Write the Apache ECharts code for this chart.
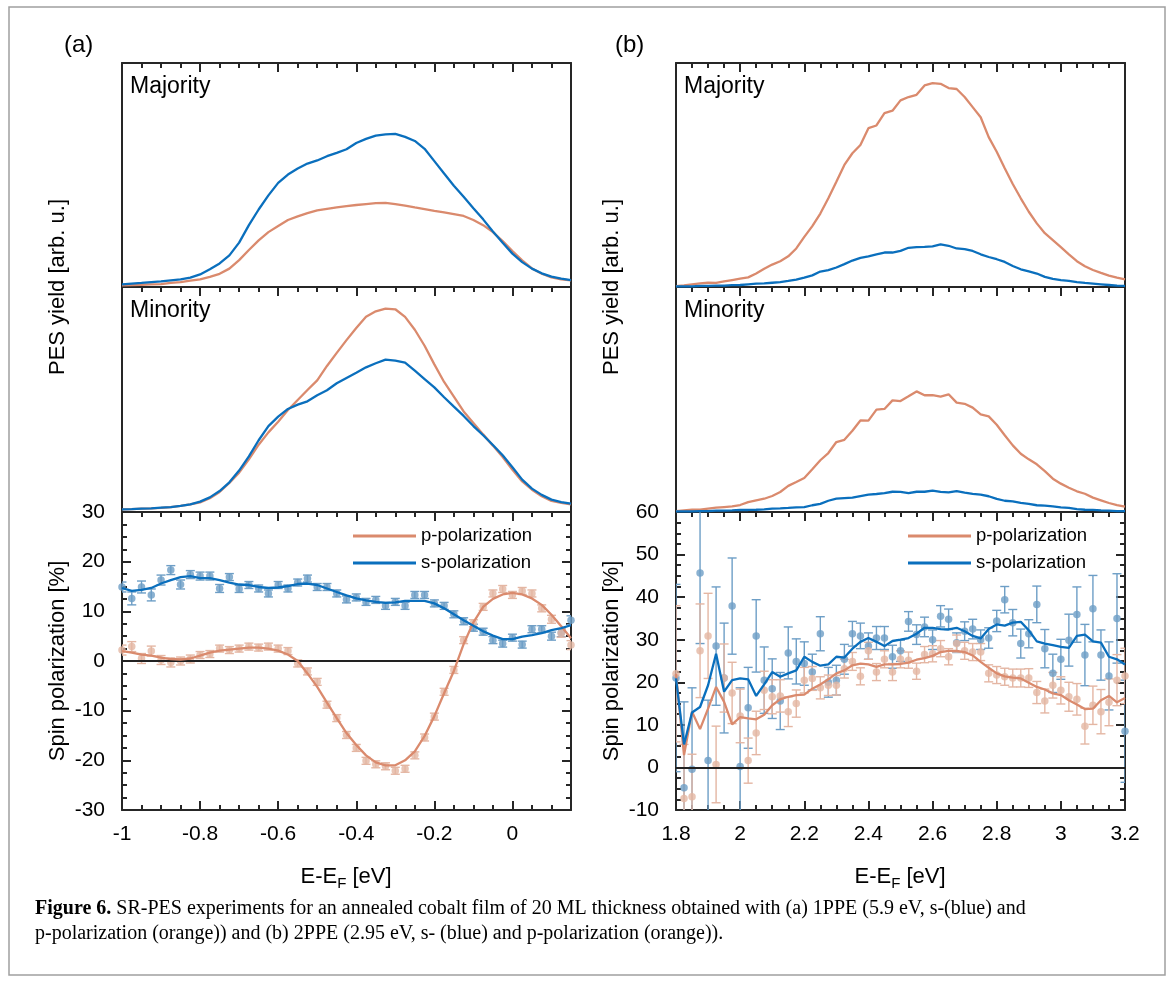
<!DOCTYPE html>
<html>
<head>
<meta charset="utf-8">
<title>SR-PES cobalt film</title>
<script src="https://cdn.jsdelivr.net/npm/echarts@6/dist/echarts.min.js"></script>
<style>
  html, body { margin: 0; background: #fff; }
  #chart { width: 1171px; height: 987px; }
</style>
</head>
<body>
<div id="chart"></div>
<script>
// energy axes (E - E_F, eV)
const energyA = [-1, -0.975, -0.95, -0.925, -0.9, -0.875, -0.85, -0.825, -0.8, -0.775, -0.75, -0.725, -0.7, -0.675, -0.65, -0.625,
  -0.6, -0.575, -0.55, -0.525, -0.5, -0.475, -0.45, -0.425, -0.4, -0.375, -0.35, -0.325, -0.3, -0.275, -0.25, -0.225,
  -0.2, -0.175, -0.15, -0.125, -0.1, -0.075, -0.05, -0.025, 0, 0.025, 0.05, 0.075, 0.1, 0.125, 0.15];
const energyB = [1.8, 1.825, 1.85, 1.875, 1.9, 1.925, 1.95, 1.975, 2, 2.025, 2.05, 2.075, 2.1, 2.125, 2.15, 2.175, 2.2, 2.225,
  2.25, 2.275, 2.3, 2.325, 2.35, 2.375, 2.4, 2.425, 2.45, 2.475, 2.5, 2.525, 2.55, 2.575, 2.6, 2.625, 2.65, 2.675, 2.7,
  2.725, 2.75, 2.775, 2.8, 2.825, 2.85, 2.875, 2.9, 2.925, 2.95, 2.975, 3, 3.025, 3.05, 3.075, 3.1, 3.125, 3.15, 3.175, 3.2];

// (a) 1PPE yields, arb. u.
const majA_p = [0.7, 0.9, 1.0, 1.2, 1.3, 1.8, 2.2, 2.8, 3.4, 4.5, 5.9, 8.2, 12.0, 16.5, 20.8, 24.5, 27.2, 29.9, 31.5, 33.0,
  34.2, 34.9, 35.5, 36.1, 36.6, 37.0, 37.4, 37.6, 37.0, 36.3, 35.5, 34.8, 34.0, 33.3, 32.5, 31.7, 29.9, 27.6, 24.5, 20.5,
  16.0, 11.9, 8.3, 5.9, 4.3, 3.4, 3.0];
const majA_s = [1.2, 1.5, 1.8, 2.2, 2.5, 3.0, 3.4, 4.2, 5.6, 7.9, 10.5, 14.1, 19.8, 27.6, 34.6, 40.9, 46.5, 50.2, 52.9, 55.1,
  56.5, 58.4, 59.9, 61.5, 64.3, 66.1, 67.6, 68.1, 68.4, 67.0, 65.2, 61.7, 56.2, 50.7, 45.2, 40.3, 35.2, 30.2, 24.8, 19.8,
  14.9, 11.1, 8.2, 6.1, 4.6, 3.7, 3.1];
const minA_p = [1.2, 1.3, 1.5, 1.6, 1.8, 2.2, 2.7, 3.4, 4.3, 6.1, 8.9, 12.9, 17.5, 23.4, 29.9, 35.4, 40.1, 45.3, 49.8, 54.2,
  58.5, 64.9, 70.7, 76.4, 81.8, 86.8, 89.2, 90.4, 90.1, 86.7, 81.0, 73.9, 65.6, 57.8, 51.3, 44.7, 39.6, 34.5, 29.5, 24.4,
  18.8, 13.6, 9.9, 7.0, 4.9, 4.1, 3.4];
const minA_s = [1.2, 1.3, 1.5, 1.6, 1.9, 2.2, 2.7, 3.4, 4.6, 6.5, 9.3, 13.2, 18.4, 24.7, 31.9, 38.2, 42.4, 45.8, 47.7, 49.2,
  51.9, 54.1, 57.2, 59.6, 61.9, 64.3, 66.1, 67.7, 67.3, 66.4, 62.8, 59.1, 55.4, 51.0, 46.8, 42.7, 38.2, 34.1, 29.8, 25.2,
  19.9, 14.4, 10.4, 7.6, 5.5, 4.4, 3.7];

// (a) spin polarization, %
const spinA_p_fit = [2.0, 1.7, 1.3, 1.1, 0.7, 0.4, 0.3, 0.5, 1.1, 1.7, 2.1, 2.3, 2.5, 2.7, 2.7, 2.5, 2.1, 1.3, 0.0, -2.5,
  -5.2, -8.4, -11.5, -14.5, -16.9, -19.0, -20.4, -21.0, -21.0, -20.0, -18.2, -15.1, -11.1, -6.5, -2.0, 3.4, 7.8, 10.9,
  12.5, 13.4, 13.7, 13.4, 12.6, 11.3, 9.3, 7.0, 4.6];
const spinA_s_fit = [14.7, 14.1, 14.3, 14.7, 15.6, 16.3, 16.9, 17.1, 16.7, 16.7, 16.3, 15.8, 15.4, 15.3, 14.9, 14.7, 14.8,
  15.1, 15.5, 15.6, 15.3, 14.6, 13.9, 13.2, 12.6, 12.2, 11.9, 11.7, 11.8, 12.1, 12.1, 12.1, 11.6, 10.6, 9.4, 8.2, 7.1, 6.0,
  5.1, 4.4, 4.4, 4.9, 5.2, 5.6, 6.2, 6.6, 7.2];
const spinA_p_pts = [2.2, 2.9, 0.5, 2.0, 0.2, -0.3, 0.0, 0.4, 1.2, 1.4, 2.5, 2.2, 2.5, 2.9, 2.7, 2.9, 2.5, 2.0, -0.5, -2.1,
  -4.2, -8.8, -11.5, -14.9, -17.5, -20.1, -20.8, -21.2, -22.1, -21.7, -19.0, -15.4, -11.2, -6.2, -1.8, 4.2, 7.6, 10.9,
  13.6, 14.5, 13.3, 14.1, 13.6, 10.6, 8.4, 5.6, 3.2];
const spinA_s_pts = [14.9, 12.6, 14.9, 13.3, 16.3, 18.3, 15.4, 17.4, 17.1, 17.1, 14.6, 16.9, 14.5, 15.3, 14.6, 13.6, 15.3,
  14.6, 15.8, 16.6, 14.9, 14.9, 13.6, 12.4, 12.8, 11.9, 12.3, 11.1, 11.9, 11.1, 13.3, 13.3, 11.6, 11.1, 9.4, 8.0, 6.7, 5.9,
  4.2, 3.5, 4.7, 3.3, 6.4, 6.4, 5.0, 5.7, 8.2];
const spinA_p_err = [1.0, 1.0, 1.0, 1.0, 0.9, 0.9, 0.8, 0.8, 0.7, 0.7, 0.7, 0.7, 0.7, 0.7, 0.7, 0.7, 0.7, 0.7, 0.7, 0.7,
  0.7, 0.7, 0.7, 0.7, 0.7, 0.7, 0.7, 0.7, 0.7, 0.7, 0.7, 0.7, 0.7, 0.7, 0.7, 0.7, 0.7, 0.7, 0.7, 0.7, 0.7, 0.7, 0.7, 0.7,
  0.8, 0.8, 0.9];
const spinA_s_err = [1.0, 1.3, 1.2, 1.2, 1.0, 0.9, 0.9, 0.8, 0.8, 0.8, 0.8, 0.7, 0.7, 0.7, 0.7, 0.7, 0.7, 0.7, 0.7, 0.7,
  0.7, 0.7, 0.7, 0.7, 0.7, 0.7, 0.7, 0.7, 0.7, 0.7, 0.7, 0.7, 0.7, 0.7, 0.7, 0.7, 0.7, 0.7, 0.7, 0.7, 0.7, 0.7, 0.7, 0.7,
  0.8, 0.8, 0.9];

// (b) 2PPE yields, arb. u.
const majB_p = [0.4, 0.7, 1.2, 1.6, 1.9, 1.8, 2.5, 3.1, 3.7, 4.3, 6.0, 8.1, 10.0, 11.5, 13.7, 17.2, 22.4, 27.2, 32.8, 39.6,
  47.0, 54.5, 59.7, 63.4, 70.9, 72.1, 77.6, 78.7, 83.3, 84.8, 85.8, 90.0, 91.0, 90.7, 88.8, 88.4, 84.8, 80.3, 75.8, 66.9,
  60.4, 53.0, 46.0, 39.6, 33.6, 28.4, 24.0, 20.9, 17.8, 14.6, 11.5, 9.3, 7.6, 6.3, 5.1, 4.2, 3.4];
const majB_s = [0.3, 0.3, 0.3, 0.5, 0.5, 0.6, 0.6, 0.8, 0.9, 1.2, 1.5, 1.6, 1.9, 2.2, 2.7, 3.3, 4.2, 5.2, 6.9, 7.5,
  8.7, 10.2, 11.8, 13.0, 13.7, 14.6, 15.4, 15.4, 16.1, 17.5, 17.8, 17.9, 18.1, 19.0, 18.4, 17.2, 16.9, 16.1, 14.6, 13.4,
  12.4, 11.2, 9.4, 7.9, 7.0, 6.0, 4.5, 3.6, 3.1, 2.7, 2.2, 1.8, 1.5, 1.2, 0.9, 0.6, 0.5];
const minB_p = [0.4, 0.7, 1.0, 1.0, 1.5, 1.9, 2.2, 2.5, 3.1, 4.4, 5.2, 5.9, 7.1, 8.9, 11.6, 13.3, 15.1, 19.0, 23.0, 26.2,
  31.1, 32.1, 36.1, 40.7, 40.6, 45.5, 45.8, 49.6, 49.3, 51.4, 53.6, 51.9, 51.9, 51.3, 52.3, 48.6, 48.1, 46.4, 43.4, 42.5,
  38.8, 34.1, 29.6, 25.9, 23.4, 21.2, 18.2, 14.8, 12.6, 10.8, 9.2, 8.1, 6.4, 5.2, 4.0, 3.1, 2.4];
const minB_s = [0.3, 0.3, 0.3, 0.4, 0.4, 0.6, 0.6, 0.7, 0.9, 0.9, 1.0, 1.2, 1.5, 1.6, 1.8, 2.1, 2.2, 3.0, 3.6, 5.0,
  5.9, 6.2, 6.4, 7.1, 7.7, 8.0, 8.4, 9.0, 8.9, 8.4, 9.0, 9.0, 9.5, 8.9, 8.7, 9.3, 8.6, 8.1, 7.7, 7.0,
  5.8, 5.0, 4.7, 4.1, 3.6, 3.0, 2.8, 2.5, 2.1, 1.8, 1.3, 1.0, 0.9, 0.7, 0.6, 0.4, 0.4];

// (b) spin polarization, %
const spinB_p_fit = [22.0, 2.9, 13.1, 9.0, 13.8, 18.9, 15.4, 10.1, 11.8, 11.5, 11.3, 12.4, 14.6, 16.0, 16.6, 17.0, 17.1,
  18.5, 19.5, 20.7, 22.1, 22.8, 24.0, 24.4, 24.2, 23.6, 24.2, 24.2, 24.3, 24.6, 25.3, 25.7, 26.2, 27.1, 27.4, 27.4, 27.1,
  26.3, 24.8, 23.4, 22.1, 21.4, 21.1, 20.9, 19.9, 18.9, 18.3, 17.4, 17.0, 15.8, 14.8, 13.7, 13.8, 15.8, 16.8, 15.3, 16.3];
const spinB_s_fit = [20.9, 5.4, 12.9, 14.2, 19.3, 26.7, 17.8, 20.5, 20.9, 20.7, 16.8, 19.5, 22.4, 21.3, 22.1, 22.8, 26.0,
  24.8, 23.9, 24.2, 26.0, 25.8, 27.9, 29.5, 30.4, 29.5, 28.5, 29.7, 30.0, 30.4, 31.4, 32.8, 32.8, 32.5, 32.4, 32.8, 32.0,
  30.9, 30.3, 32.5, 33.6, 33.3, 34.0, 34.2, 32.2, 29.6, 29.1, 28.7, 28.3, 28.1, 30.9, 31.2, 29.6, 29.3, 26.0, 25.4, 24.2];
const spinB_p_pts = [22.0, -7.3, -6.9, 27.4, 30.9, 0.7, 21.0, 17.5, 12.1, 1.6, 8.1, 18.1, 16.6, 16.8, 13.1, 15.0, 20.5,
  20.9, 18.7, 19.3, 19.3, 23.2, 24.9, 21.4, 27.4, 22.4, 25.4, 22.4, 25.4, 25.2, 22.6, 26.5, 26.7, 27.9, 26.0, 29.1, 27.4,
  27.1, 27.1, 22.1, 21.7, 21.3, 21.0, 21.0, 21.0, 17.6, 15.6, 19.3, 18.1, 16.6, 16.0, 9.7, 14.6, 13.1, 15.3, 20.5, 21.5];
const spinB_s_pts = [21.0, -4.8, -0.4, 45.7, 1.6, 28.5, 21.0, 37.9, 0.2, 14.0, 30.9, 20.5, 18.5, 15.6, 26.9, 24.9, 24.4,
  22.4, 31.4, 20.0, 20.5, 25.4, 31.4, 30.9, 28.5, 30.4, 30.4, 26.0, 27.4, 34.3, 31.2, 33.0, 30.0, 35.5, 34.8, 29.3, 32.0,
  32.5, 30.0, 30.4, 34.4, 39.4, 34.0, 29.1, 31.4, 38.3, 27.9, 22.1, 25.4, 29.9, 35.9, 26.4, 37.3, 26.4, 21.5, 35.0, 8.5];
const spinB_p_err = [16, 12.7, 10, 11, 10, 9, 8, 7.2, 6.3, 5.3, 5.1, 4.5, 4.0, 3.8, 3.5, 3.2, 3.0, 2.8, 2.6, 2.4,
  2.3, 2.2, 2.1, 2.0, 2.0, 2.0, 2.0, 2.0, 2.0, 1.9, 1.9, 1.9, 1.9, 1.9, 1.9, 2.0, 2.0, 2.0, 2.0, 2.0,
  2.0, 2.0, 2.1, 2.1, 2.2, 2.6, 2.8, 3.0, 3.2, 3.4, 3.7, 4.2, 4.5, 5.2, 5.5, 6.0, 6.5];
const spinB_s_err = [22, 20.2, 19.1, 16.6, 14.2, 13.9, 12.9, 11.3, 18.5, 9.5, 8.5, 7.8, 7.0, 6.7, 6.1, 5.3, 5.1, 4.2, 4.0, 3.5,
  3.5, 3.5, 2.9, 3.0, 3.1, 2.7, 2.7, 2.7, 2.5, 2.3, 2.3, 2.3, 2.3, 2.5, 2.4, 2.3, 2.2, 2.3, 2.3, 2.4,
  2.5, 3.1, 3.1, 3.4, 3.3, 4.3, 4.5, 4.5, 4.7, 6.1, 6.5, 7.2, 7.8, 5.9, 8.0, 10.5, 12.0];

const ticksA = { min: -1, max: 0.15 };
const ticksB = { min: 1.8, max: 3.2 };
const spinRangeA = { min: -30, max: 30 };
const spinRangeB = { min: -10, max: 60 };

const BLUE = '#0A6FBD';
const ORANGE = '#DA8A6D';
const BLUE_PT = '#6D9EC6';
const ORANGE_PT = '#E4B6A3';
const FRAME = '#262626';
const FONT = '"Liberation Sans", Arial, sans-serif';

const grid = [], xAxis = [], yAxis = [], series = [];

function tick(len) {
  return { show: true, inside: true, length: len, lineStyle: { color: FRAME, width: 2 } };
}

// x axes: one at 0.2 for the long ticks (and labels), one at 0.05 for the short ticks
function addX(g, pos, r, step, len, withLine, labels) {
  xAxis.push({
    type: 'value', gridIndex: g, position: pos, min: r.min, max: r.max, interval: step,
    axisLine: { show: withLine, onZero: false, lineStyle: { color: FRAME, width: 2 } },
    axisTick: len ? tick(len) : { show: false },
    axisLabel: labels ? {
      show: true, margin: 14, color: '#000', fontSize: 21, fontFamily: FONT,
      showMaxLabel: r.max === 3.2, formatter: v => String(Math.round(v * 100) / 100)
    } : { show: false },
    splitLine: { show: false }
  });
  return xAxis.length - 1;
}

function addY(g, pos, r, spin, labels) {
  yAxis.push({
    type: 'value', gridIndex: g, position: pos, min: r.min, max: r.max, interval: spin ? 10 : 100,
    axisLine: { show: true, onZero: false, lineStyle: { color: FRAME, width: 2 } },
    axisTick: spin ? tick(9) : { show: false },
    minorTick: spin ? { show: true, splitNumber: 4, length: 5, lineStyle: { color: FRAME, width: 2 } } : { show: false },
    axisLabel: labels ? { show: true, margin: 17, color: '#000', fontSize: 21, fontFamily: FONT } : { show: false },
    splitLine: { show: false }
  });
  return yAxis.length - 1;
}

function addPanel(left, top, height, xr, yr, spin) {
  const g = grid.length;
  grid.push({ left: left, top: top, width: 449, height: height });
  const xi = addX(g, 'bottom', xr, 0.2, spin ? 9 : 0, true, spin);
  addX(g, 'bottom', xr, 0.05, spin ? 5 : 0, false, false);
  addX(g, 'top', xr, 0.2, 9, true, false);
  addX(g, 'top', xr, 0.05, 5, false, false);
  const yi = addY(g, 'left', yr, spin, spin);
  addY(g, 'right', yr, spin, false);
  return { xi, yi };
}

function curve(name, xs, ys, color, ax, extra) {
  return Object.assign({
    name: name, type: 'line', xAxisIndex: ax.xi, yAxisIndex: ax.yi, showSymbol: false, symbol: 'none',
    color: color, lineStyle: { color: color, width: 2.3 }, z: 5,
    data: xs.map((x, k) => [x, ys[k]])
  }, extra || {});
}

function points(xs, ys, color, ax) {
  return {
    type: 'scatter', xAxisIndex: ax.xi, yAxisIndex: ax.yi, symbolSize: 7.5, z: 3,
    itemStyle: { color: color }, data: xs.map((x, k) => [x, ys[k]])
  };
}

function errorBars(xs, ys, es, color, ax) {
  return {
    type: 'custom', xAxisIndex: ax.xi, yAxisIndex: ax.yi, clip: true, silent: true, z: 2,
    data: xs.map((x, k) => [x, ys[k] - es[k], ys[k] + es[k]]),
    encode: { x: 0, y: [1, 2] },
    renderItem: (params, api) => {
      const lo = api.coord([api.value(0), api.value(1)]);
      const hi = api.coord([api.value(0), api.value(2)]);
      const w = 4.5;
      const st = { stroke: color, lineWidth: 1.4 };
      return {
        type: 'group', children: [
          { type: 'line', shape: { x1: lo[0], y1: lo[1], x2: hi[0], y2: hi[1] }, style: st },
          { type: 'line', shape: { x1: lo[0] - w, y1: lo[1], x2: lo[0] + w, y2: lo[1] }, style: st },
          { type: 'line', shape: { x1: hi[0] - w, y1: hi[1], x2: hi[0] + w, y2: hi[1] }, style: st }
        ]
      };
    }
  };
}

const zeroLine = {
  silent: true, symbol: ['none', 'none'], label: { show: false },
  lineStyle: { color: '#222', width: 2, type: 'solid' }, data: [{ yAxis: 0 }]
};

const yield = { min: 0, max: 100 };
const colA = 122, colB = 676;

// (a)
const aMaj = addPanel(colA, 63, 224, ticksA, yield, false);
const aMin = addPanel(colA, 287, 225, ticksA, yield, false);
const aSpin = addPanel(colA, 512, 298, ticksA, spinRangeA, true);
// (b)
const bMaj = addPanel(colB, 63, 224, ticksB, yield, false);
const bMin = addPanel(colB, 287, 225, ticksB, yield, false);
const bSpin = addPanel(colB, 512, 298, ticksB, spinRangeB, true);

series.push(
  curve('A maj p', energyA, majA_p, ORANGE, aMaj), curve('A maj s', energyA, majA_s, BLUE, aMaj),
  curve('A min p', energyA, minA_p, ORANGE, aMin), curve('A min s', energyA, minA_s, BLUE, aMin),
  curve('B maj p', energyB, majB_p, ORANGE, bMaj), curve('B maj s', energyB, majB_s, BLUE, bMaj),
  curve('B min p', energyB, minB_p, ORANGE, bMin), curve('B min s', energyB, minB_s, BLUE, bMin),

  errorBars(energyA, spinA_s_pts, spinA_s_err, BLUE_PT, aSpin), points(energyA, spinA_s_pts, BLUE_PT, aSpin),
  errorBars(energyA, spinA_p_pts, spinA_p_err, ORANGE_PT, aSpin), points(energyA, spinA_p_pts, ORANGE_PT, aSpin),
  curve('p-polarization', energyA, spinA_p_fit, ORANGE, aSpin, { markLine: zeroLine }),
  curve('s-polarization', energyA, spinA_s_fit, BLUE, aSpin),

  errorBars(energyB, spinB_s_pts, spinB_s_err, BLUE_PT, bSpin), points(energyB, spinB_s_pts, BLUE_PT, bSpin),
  errorBars(energyB, spinB_p_pts, spinB_p_err, ORANGE_PT, bSpin), points(energyB, spinB_p_pts, ORANGE_PT, bSpin),
  curve('p-polarization', energyB, spinB_p_fit, ORANGE, bSpin, { markLine: zeroLine }),
  curve('s-polarization', energyB, spinB_s_fit, BLUE, bSpin)
);

function legendAt(left) {
  return {
    left: left, top: 526, orient: 'vertical', padding: 0, itemGap: 7, itemWidth: 63, itemHeight: 3,
    icon: 'rect', selectedMode: false,
    textStyle: { fontSize: 18.5, fontFamily: FONT, color: '#000', lineHeight: 20 },
    data: ['p-polarization', 's-polarization']
  };
}

function label(x, y, text, size, rot) {
  return {
    type: 'text', x: x, y: y, rotation: rot || 0, silent: true,
    style: { text: text, fill: '#000', fontSize: size, fontFamily: FONT, align: rot ? 'center' : 'left', verticalAlign: 'middle' }
  };
}

const xTitle = x => ({
  type: 'text', x: x, y: 877, silent: true,
  style: {
    text: 'E-E{sub|F} [eV]', fill: '#000', fontSize: 22, fontFamily: FONT, align: 'center', verticalAlign: 'middle',
    rich: { sub: { fontSize: 15, fontFamily: FONT, fill: '#000', padding: [14, 0, 0, 0] } }
  }
});

const capFont = '"Liberation Serif", "Times New Roman", serif';
const graphic = [
  { type: 'rect', silent: true, shape: { x: 9, y: 7, width: 1156, height: 968 }, style: { fill: 'none', stroke: '#a0a0a0', lineWidth: 1.5 } },
  label(64, 45, '(a)', 24), label(615, 45, '(b)', 24),
  label(130, 87, 'Majority', 23), label(130, 311, 'Minority', 23),
  label(684, 87, 'Majority', 23), label(684, 311, 'Minority', 23),
  label(58, 287, 'PES yield [arb. u.]', 22, Math.PI / 2),
  label(612, 287, 'PES yield [arb. u.]', 22, Math.PI / 2),
  label(58, 661, 'Spin polarization [%]', 22, Math.PI / 2),
  label(612, 661, 'Spin polarization [%]', 22, Math.PI / 2),
  xTitle(346), xTitle(900),
  {
    type: 'text', x: 35, y: 909, silent: true,
    style: {
      text: '{b|Figure 6.} SR-PES experiments for an annealed cobalt film of 20 ML thickness obtained with (a) 1PPE (5.9 eV, s-(blue) and',
      fill: '#000', fontSize: 20, fontFamily: capFont, verticalAlign: 'middle',
      rich: { b: { fontWeight: 'bold', fontSize: 20, fontFamily: capFont, fill: '#000' } }
    }
  },
  {
    type: 'text', x: 35, y: 934, silent: true,
    style: {
      text: 'p-polarization (orange)) and (b) 2PPE (2.95 eV, s- (blue) and p-polarization (orange)).',
      fill: '#000', fontSize: 20, fontFamily: capFont, verticalAlign: 'middle'
    }
  }
];

const chart = echarts.init(document.getElementById('chart'));
chart.setOption({
  animation: false,
  backgroundColor: '#fff',
  grid: grid,
  xAxis: xAxis,
  yAxis: yAxis,
  legend: [legendAt(353), legendAt(908)],
  series: series,
  graphic: graphic
});
</script>
</body>
</html>
